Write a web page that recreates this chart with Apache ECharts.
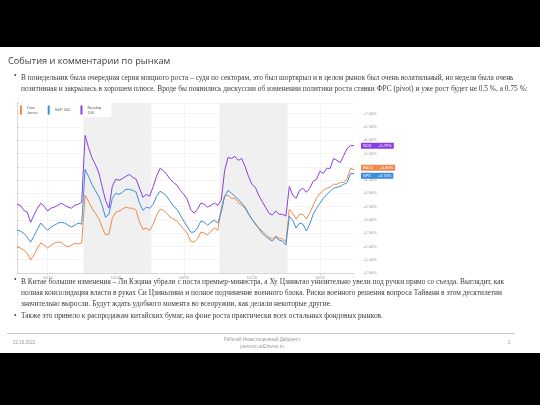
<!DOCTYPE html>
<html><head><meta charset="utf-8">
<script src="https://cdn.jsdelivr.net/npm/echarts@6/dist/echarts.min.js"></script>
<style>html,body{margin:0;padding:0;background:#000}#c{width:540px;height:405px}</style>
</head><body><div id="c"></div>
<script>
const days = ['10/17','10/18','10/19','10/20','10/21'];
const slotsPerDay = 20;
const seriesNames = ['Dow Jones','S&P 500','Nasdaq 100'];
const tickers = ['INDU','SPX','NDX'];
const yTicks = [1,1.5,2,2.5,3,3.5,4,4.5,5,5.5,6,6.5,7];
// % change, 20 intraday samples per trading day
const dji = [1.98,1.94,1.86,1.75,1.49,1.68,1.94,2.13,2.05,1.94,2.05,2.13,2.16,2.16,2.05,1.98,2.05,2.13,2.09,2.13,
 3.93,3.70,3.44,3.25,3.06,2.73,2.43,2.46,3.06,3.29,3.33,3.40,3.48,3.44,3.44,3.36,2.91,2.65,2.69,2.61,
 2.84,3.18,3.40,3.36,3.25,3.10,3.03,2.95,2.80,2.65,2.50,2.20,2.16,2.28,2.54,2.50,2.43,2.58,2.69,2.61,
 3.44,3.89,3.93,3.81,3.81,3.66,3.55,3.44,3.21,3.03,2.88,2.69,2.58,2.46,2.35,2.28,2.39,2.31,2.28,2.16,
 3.40,3.25,3.03,3.21,3.21,3.03,3.25,3.55,3.81,4.00,4.11,4.19,4.23,4.34,4.34,4.41,4.41,4.56,4.94,4.89];
const spx = [2.61,2.58,2.50,2.35,2.16,2.39,2.65,2.88,2.73,2.61,2.73,2.80,2.88,2.91,2.88,2.80,2.73,2.80,2.88,2.84,
 4.90,4.64,4.34,4.11,3.89,3.55,3.10,3.21,3.81,4.00,3.96,4.04,4.15,4.15,4.11,4.04,3.63,3.36,3.48,3.44,
 3.59,3.89,4.08,4.00,3.89,3.70,3.51,3.40,3.18,2.95,2.76,2.54,2.54,2.69,2.95,2.91,2.80,2.91,2.99,2.88,
 3.29,3.89,4.11,4.00,3.89,3.78,3.63,3.48,3.25,3.03,2.84,2.69,2.50,2.39,2.28,2.20,2.35,2.24,2.20,2.05,
 3.14,2.99,2.69,2.88,2.84,2.58,2.84,3.21,3.44,3.63,3.81,3.96,4.08,4.19,4.23,4.26,4.34,4.41,4.75,4.74];
const ndx = [3.59,3.55,3.36,3.29,2.91,3.18,3.44,3.63,3.51,3.33,3.44,3.48,3.55,3.63,3.55,3.48,3.44,3.55,3.59,3.66,
 6.18,5.73,5.35,5.09,4.79,4.26,3.74,3.44,4.26,4.53,4.49,4.56,4.64,4.71,4.60,4.53,4.19,3.85,3.96,3.89,
 4.26,4.64,4.94,4.86,4.71,4.53,4.41,4.30,4.11,3.96,3.78,3.40,3.25,3.40,3.63,3.59,3.48,3.55,3.63,3.55,
 3.74,4.86,5.35,5.31,5.39,5.24,5.31,5.01,4.64,4.34,4.23,3.93,3.70,3.48,3.25,3.18,3.33,3.21,3.21,3.14,
 4.26,3.93,3.81,4.11,4.19,4.04,4.19,4.45,4.53,4.83,4.75,4.94,4.94,5.31,5.24,5.16,5.43,5.69,5.80,5.79];
const colors = ['#ef8a4c','#3b8ddb','#8a3fe0'];

const categories = [];
days.forEach(d => { for (let i = 0; i < slotsPerDay; i++) {
  const m = 570 + Math.round(i * 19.5);
  categories.push(d + ' ' + String(Math.floor(m/60)).padStart(2,'0') + ':' + String(m%60).padStart(2,'0'));
}});
const isMid = (idx) => idx % slotsPerDay === 9;
const shaded = [[1,2],[3,4]].map(([a]) => [{xAxis: a*slotsPerDay - 0.5}, {xAxis: (a+1)*slotsPerDay - 0.5}]);

const chart = echarts.init(document.getElementById('c'), null, {renderer: 'canvas'});
const sans = '"Liberation Sans", Arial, sans-serif';
const serif = '"Liberation Serif", "DejaVu Serif", serif';
const bodyFont = '7.4px ' + serif;
const allData = [dji, spx, ndx];
const endOffsets = [[0,-2],[0,2],[0,0]];

const series = seriesNames.map((n, k) => ({
  name: n, type: 'line', data: allData[k], showSymbol: false, smooth: false,
  lineStyle: {width: 1, color: colors[k]}, itemStyle: {color: colors[k]},
  z: 3 + k,
  endLabel: {show: true, distance: 7, offset: endOffsets[k], fontSize: 4, fontFamily: sans, color: '#fff',
    backgroundColor: colors[k], padding: [1,2,1,2],
    formatter: p => tickers[k] + '      +' + p.value.toFixed(2) + '%'}
}));
series.push({
  name: 'bands', type: 'line', xAxisIndex: 1, data: [], silent: true,
  markArea: {silent: true, itemStyle: {color: '#f0f0f0'}, data: shaded}
});

chart.setOption({
  backgroundColor: '#000',
  animation: false,
  textStyle: {fontFamily: sans},
  grid: {left: 17, right: 186, top: 103, bottom: 132, containLabel: false},
  legend: {
    data: seriesNames, left: 19, top: 103, icon: 'rect', itemWidth: 2, itemHeight: 9, itemGap: 10,
    backgroundColor: '#fff', padding: [2,10,2,1],
    textStyle: {fontSize: 4, color: '#666', lineHeight: 5, fontFamily: sans},
    formatter: n => n === 'Dow Jones' ? 'Dow\nJones' : n === 'Nasdaq 100' ? 'Nasdaq\n100' : n
  },
  xAxis: [{
    type: 'category', data: categories, boundaryGap: false,
    axisLine: {lineStyle: {color: '#cfcfcf', width: 0.8}},
    axisTick: {interval: (i) => isMid(i), length: 2, lineStyle: {color: '#cfcfcf'}},
    axisLabel: {interval: (i) => isMid(i), formatter: v => v.split(' ')[0], fontSize: 4, color: '#999', margin: 3},
    splitLine: {show: true, interval: (i) => isMid(i), lineStyle: {color: '#ececec', width: 0.6}}
  }, {
    type: 'value', min: 0, max: slotsPerDay * days.length - 1, show: false
  }],
  yAxis: {
    type: 'value', position: 'right', offset: 6, min: 1, max: 7.4, interval: 0.5,
    axisLine: {show: true, lineStyle: {color: '#cfcfcf', width: 0.8}},
    axisTick: {show: true, length: 2, lineStyle: {color: '#cfcfcf'}},
    axisLabel: {fontSize: 4, color: '#999', margin: 3,
      formatter: v => yTicks.some(t => Math.abs(t - v) < 1e-6) ? '+' + v.toFixed(2) + '%' : ''},
    splitLine: {show: true, lineStyle: {color: '#ececec', width: 0.6}}
  },
  series: series,
  graphic: [
    {type: 'rect', z: -100, shape: {x: 0, y: 47, width: 540, height: 306}, style: {fill: '#fff'}},
    {type: 'text', z: 10, x: 8, y: 57, style: {text: 'События и комментарии по рынкам', font: '9.2px "Open Sans", sans-serif', fill: '#404040'}},
    {type: 'text', z: 10, x: 14, y: 73, style: {text: '•', font: bodyFont, fill: '#404040'}},
    {type: 'text', z: 10, x: 21, y: 73, style: {
      text: 'В понедельник была очередная серия мощного роста – судя по секторам, это был шорткрыл и в целом рынок был очень волатильный, но неделя была очень\nпозитивная и закрылась в хорошем плюсе. Вроде бы появились дискуссии об изменении политики роста ставки ФРС (pivot) и уже рост будет не 0.5 %, а 0.75 %:',
      font: bodyFont, fill: '#404040', lineHeight: 11}},
    {type: 'text', z: 10, x: 14, y: 277, style: {text: '•', font: bodyFont, fill: '#404040'}},
    {type: 'text', z: 10, x: 21, y: 277, style: {
      text: 'В Китае большие изменения – Ли Кэцяна убрали с поста премьер-министра, а Ху Цзиньтао унизительно увели под ручки прямо со съезда. Выглядит, как\nполная консолидация власти в руках Си Цзиньпина и полное подчинение военного блока. Риски военного решения вопроса Тайваня в этом десятилетии\nзначительно выросли. Будут ждать удобного момента во всеоружии, как делали некоторые другие.',
      font: bodyFont, fill: '#404040', lineHeight: 10.7}},
    {type: 'text', z: 10, x: 14, y: 313, style: {text: '•', font: bodyFont, fill: '#404040'}},
    {type: 'text', z: 10, x: 21, y: 313, style: {
      text: 'Также это привело к распродажам китайских бумаг, на фоне роста практически всех остальных фондовых рынков.',
      font: bodyFont, fill: '#404040'}},
    {type: 'line', z: 10, shape: {x1: 7, y1: 333.5, x2: 515, y2: 333.5}, style: {stroke: '#c3c8dc', lineWidth: 1}},
    {type: 'text', z: 10, x: 13, y: 340, style: {text: '22.10.2022', font: '4.5px ' + sans, fill: '#999'}},
    {type: 'text', z: 10, x: 262, y: 336, style: {text: 'Рабочий Инвестиционный Дайджест\npremium.ad2invest.ru', font: '4.5px ' + sans, fill: '#999', align: 'center', lineHeight: 7}},
    {type: 'text', z: 10, x: 508, y: 340, style: {text: '2', font: '4.5px ' + sans, fill: '#999'}}
  ]
});
</script></body></html>
